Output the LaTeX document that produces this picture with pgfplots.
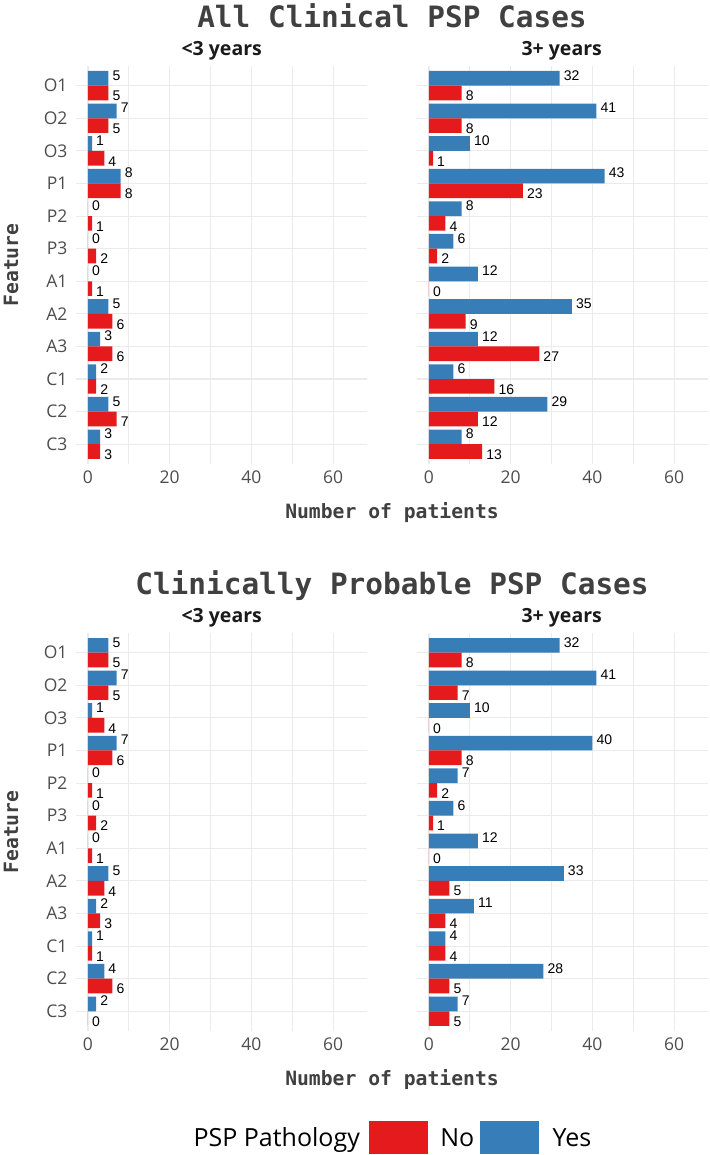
\documentclass[border=0pt]{standalone}
\usepackage{fontspec}
\setmainfont{Open Sans}
\newfontfamily\monof{DejaVu Sans Mono}
\newfontfamily\arialf{Liberation Sans}
\usepackage{pgfplots}
\usepackage{pgfplotstable}
\pgfplotsset{compat=1.18}
\definecolor{pspred}{HTML}{E41A1C}
\definecolor{pspblue}{HTML}{377EB8}
\definecolor{gridc}{HTML}{EBEBEB}
\definecolor{tickc}{HTML}{4D4D4D}
\definecolor{titlec}{HTML}{404040}
\definecolor{stripc}{HTML}{1A1A1A}

% All clinical PSP cases, <3 years
\pgfplotstableread{
pos feat yes no
1  O1 5 5
2  O2 7 5
3  O3 1 4
4  P1 8 8
5  P2 0 1
6  P3 0 2
7  A1 0 1
8  A2 5 6
9  A3 3 6
10 C1 2 2
11 C2 5 7
12 C3 3 3
}\allLt
% All clinical PSP cases, 3+ years
\pgfplotstableread{
pos feat yes no
1  O1 32 8
2  O2 41 8
3  O3 10 1
4  P1 43 23
5  P2 8 4
6  P3 6 2
7  A1 12 0
8  A2 35 9
9  A3 12 27
10 C1 6 16
11 C2 29 12
12 C3 8 13
}\allGe
% Clinically probable PSP cases, <3 years
\pgfplotstableread{
pos feat yes no
1  O1 5 5
2  O2 7 5
3  O3 1 4
4  P1 7 6
5  P2 0 1
6  P3 0 2
7  A1 0 1
8  A2 5 4
9  A3 2 3
10 C1 1 1
11 C2 4 6
12 C3 2 0
}\probLt
% Clinically probable PSP cases, 3+ years
\pgfplotstableread{
pos feat yes no
1  O1 32 8
2  O2 41 7
3  O3 10 0
4  P1 40 8
5  P2 7 2
6  P3 6 1
7  A1 12 0
8  A2 33 5
9  A3 11 4
10 C1 4 4
11 C2 28 5
12 C3 7 5
}\probGe

\pgfplotsset{
  /pgf/number format/assume math mode=true,
  facet/.style={
    anchor=north west, scale only axis, width=291.7pt, height=397.7pt,
    xmin=-3, xmax=68.4, ymin=0.4, ymax=12.6, y dir=reverse,
    axis line style={draw=none},
    major tick length=0pt, minor tick length=0pt,
    xtick={0,20,40,60}, minor xtick={10,30,50},
    ytick={1,...,12},
    xmajorgrids, xminorgrids, ymajorgrids,
    major grid style={draw=gridc, line width=1.1pt},
    minor grid style={draw=gridc, line width=0.8pt},
    tick label style={font=\fontsize{17.5}{20}\selectfont, text=tickc, inner sep=0pt},
    xticklabel shift=6.5pt, yticklabel shift=8pt,
    clip=false,
    xbar, bar width=0.45, bar shift=0pt,
  },
  lefty/.style={yticklabels={O1,O2,O3,P1,P2,P3,A1,A2,A3,C1,C2,C3}},
  righty/.style={yticklabels={,,,,,,,,,,,}},
  valbar/.style={draw=none, forget plot, nodes near coords, point meta=x,
    nodes near coords align={horizontal},
    every node near coord/.append style={font=\arialf\fontsize{14}{16}\selectfont,
      text=black, inner sep=0pt, xshift=4pt, yshift=#1}},
  yesbar/.style={valbar=3pt, fill=pspblue},
  nobar/.style={valbar=-3pt, fill=pspred},
}

\begin{document}
\begin{tikzpicture}
\useasboundingbox (0,0) rectangle (709pt,-1155pt);

% ---------- top block ----------
\node[font=\monof\bfseries\fontsize{29.4}{34}\selectfont, text=titlec, anchor=base] at (392pt,-28pt) {All Clinical PSP Cases};
\node[font=\bfseries\fontsize{19.5}{22}\selectfont, text=stripc, anchor=base] at (221.7pt,-55.7pt) {<3 years};
\node[font=\bfseries\fontsize{19.5}{22}\selectfont, text=stripc, anchor=base] at (561.7pt,-55.7pt) {3+ years};

\begin{axis}[facet, lefty, at={(75.7pt,-66.1pt)}]
\addplot[yesbar] table[x=yes, y expr=\thisrow{pos}-0.225] {\allLt};
\addplot[nobar] table[x=no, y expr=\thisrow{pos}+0.225] {\allLt};
\end{axis}
\begin{axis}[facet, righty, at={(416.7pt,-66.1pt)}]
\addplot[yesbar] table[x=yes, y expr=\thisrow{pos}-0.225] {\allGe};
\addplot[nobar] table[x=no, y expr=\thisrow{pos}+0.225] {\allGe};
\end{axis}

\node[font=\monof\bfseries\fontsize{19.7}{22}\selectfont, text=titlec, anchor=base] at (392pt,-518.3pt) {Number of patients};
\node[font=\monof\bfseries\fontsize{19.7}{22}\selectfont, text=titlec, rotate=90] at (11pt,-265pt) {Feature};

% ---------- bottom block ----------
\node[font=\monof\bfseries\fontsize{29.4}{34}\selectfont, text=titlec, anchor=base] at (392pt,-594.5pt) {Clinically Probable PSP Cases};
\node[font=\bfseries\fontsize{19.5}{22}\selectfont, text=stripc, anchor=base] at (221.7pt,-622.7pt) {<3 years};
\node[font=\bfseries\fontsize{19.5}{22}\selectfont, text=stripc, anchor=base] at (561.7pt,-622.7pt) {3+ years};

\begin{axis}[facet, lefty, at={(75.7pt,-633.1pt)},
  legend style={at={(axis description cs:1.086,-0.267)}, anchor=center,
    draw=none, fill=none, inner sep=0pt, legend columns=-1,
    /tikz/column sep=0pt,
    nodes={inner sep=0pt, text=black, font=\fontsize{25}{29}\selectfont}}]
\addplot[yesbar] table[x=yes, y expr=\thisrow{pos}-0.225] {\probLt};
\addplot[nobar] table[x=no, y expr=\thisrow{pos}+0.225] {\probLt};
\addlegendimage{empty legend}
\addlegendentry{PSP Pathology\hspace{9pt}\mbox{}}
\addlegendimage{legend image code/.code={\fill[pspred] (0pt,-15pt) rectangle (58pt,17pt);}}
\addlegendentry{\hspace{13pt}No\hspace{6pt}\mbox{}}
\addlegendimage{legend image code/.code={\fill[pspblue] (0pt,-15pt) rectangle (58pt,17pt);}}
\addlegendentry{\hspace{14pt}Yes}
\end{axis}
\begin{axis}[facet, righty, at={(416.7pt,-633.1pt)}]
\addplot[yesbar] table[x=yes, y expr=\thisrow{pos}-0.225] {\probGe};
\addplot[nobar] table[x=no, y expr=\thisrow{pos}+0.225] {\probGe};
\end{axis}

\node[font=\monof\bfseries\fontsize{19.7}{22}\selectfont, text=titlec, anchor=base] at (392pt,-1085.3pt) {Number of patients};
\node[font=\monof\bfseries\fontsize{19.7}{22}\selectfont, text=titlec, rotate=90] at (11pt,-832pt) {Feature};
\end{tikzpicture}
\end{document}
